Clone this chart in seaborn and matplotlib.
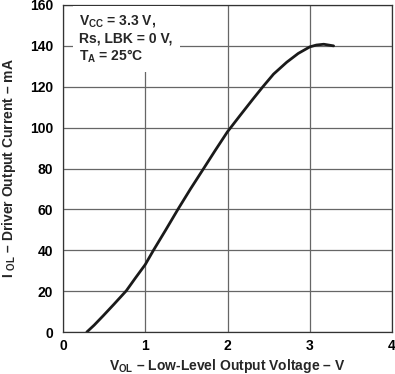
import matplotlib
matplotlib.use('Agg')
import matplotlib.pyplot as plt
import pandas as pd
import seaborn as sns

# curve
vol = [0.29, 0.38, 0.49, 0.62, 0.77, 0.88, 1.00, 1.10, 1.25, 1.40, 1.55, 1.71, 1.85, 2.00, 2.15, 2.31,
       2.43, 2.56, 2.72, 2.86, 3.00, 3.08, 3.17, 3.29]
iol = [0.0, 3.4, 8.0, 13.6, 20.2, 26.4, 33.0, 40.0, 50.0, 60.2, 70.0, 80.0, 88.8, 98.0, 105.8, 114.0,
       120.0, 126.2, 132.0, 136.3, 139.5, 140.4, 140.8, 140.0]

x_ticks = [0, 1, 2, 3, 4]
y_ticks = [0, 20, 40, 60, 80, 100, 120, 140, 160]

sns.set_theme(style='white')
plt.rcParams['font.family'] = ['Liberation Sans', 'DejaVu Sans']
plt.rcParams['font.weight'] = 'bold'
plt.rcParams['mathtext.fontset'] = 'custom'
plt.rcParams['mathtext.rm'] = 'Liberation Sans:bold'
plt.rcParams['mathtext.bf'] = 'Liberation Sans:bold'
plt.rcParams['mathtext.it'] = 'Liberation Sans:bold'
plt.rcParams['mathtext.default'] = 'rm'
plt.rcParams['axes.unicode_minus'] = False

tbl = pd.DataFrame({'vol': vol, 'iol': iol})

fig = plt.figure(figsize=(3.95, 3.74), dpi=100)
ax = fig.add_axes([63 / 395, 42 / 374, 329 / 395, 327 / 374])

sns.lineplot(data=tbl, x='vol', y='iol', estimator=None, sort=False, color='#1a1a1a', linewidth=2.0, ax=ax)

ax.set_xlim(0, 4)
ax.set_ylim(0, 160)
ax.set_xticks(x_ticks)
ax.set_yticks(y_ticks)
ax.grid(True, color='#666666', linewidth=0.9)
for s in ax.spines.values():
    s.set_color('#333333')
    s.set_linewidth(0.9)
ax.tick_params(axis='both', length=0, labelsize=10, colors='black')
ax.tick_params(axis='x', pad=5)
ax.tick_params(axis='y', pad=7)
for lab in ax.get_xticklabels() + ax.get_yticklabels():
    lab.set_fontweight('bold')

ax.set_xlabel(r'V$_{\mathregular{OL}}$ – Low-Level Output Voltage – V', fontsize=10, fontweight='bold', labelpad=3)
ax.set_ylabel(r'I $_{\mathregular{OL}}$ – Driver Output Current – mA', fontsize=10, fontweight='bold', labelpad=9)

ax.text(0.05, 0.975, 'V$_{\\mathregular{CC}}$ = 3.3 V,\nRs, LBK = 0 V,\nT$_{\\mathregular{A}}$ = 25°C',
        transform=ax.transAxes, ha='left', va='top', fontsize=10, fontweight='bold', linespacing=1.2,
        bbox=dict(facecolor='white', edgecolor='none', pad=5))

fig.savefig('out.png', dpi=100)
